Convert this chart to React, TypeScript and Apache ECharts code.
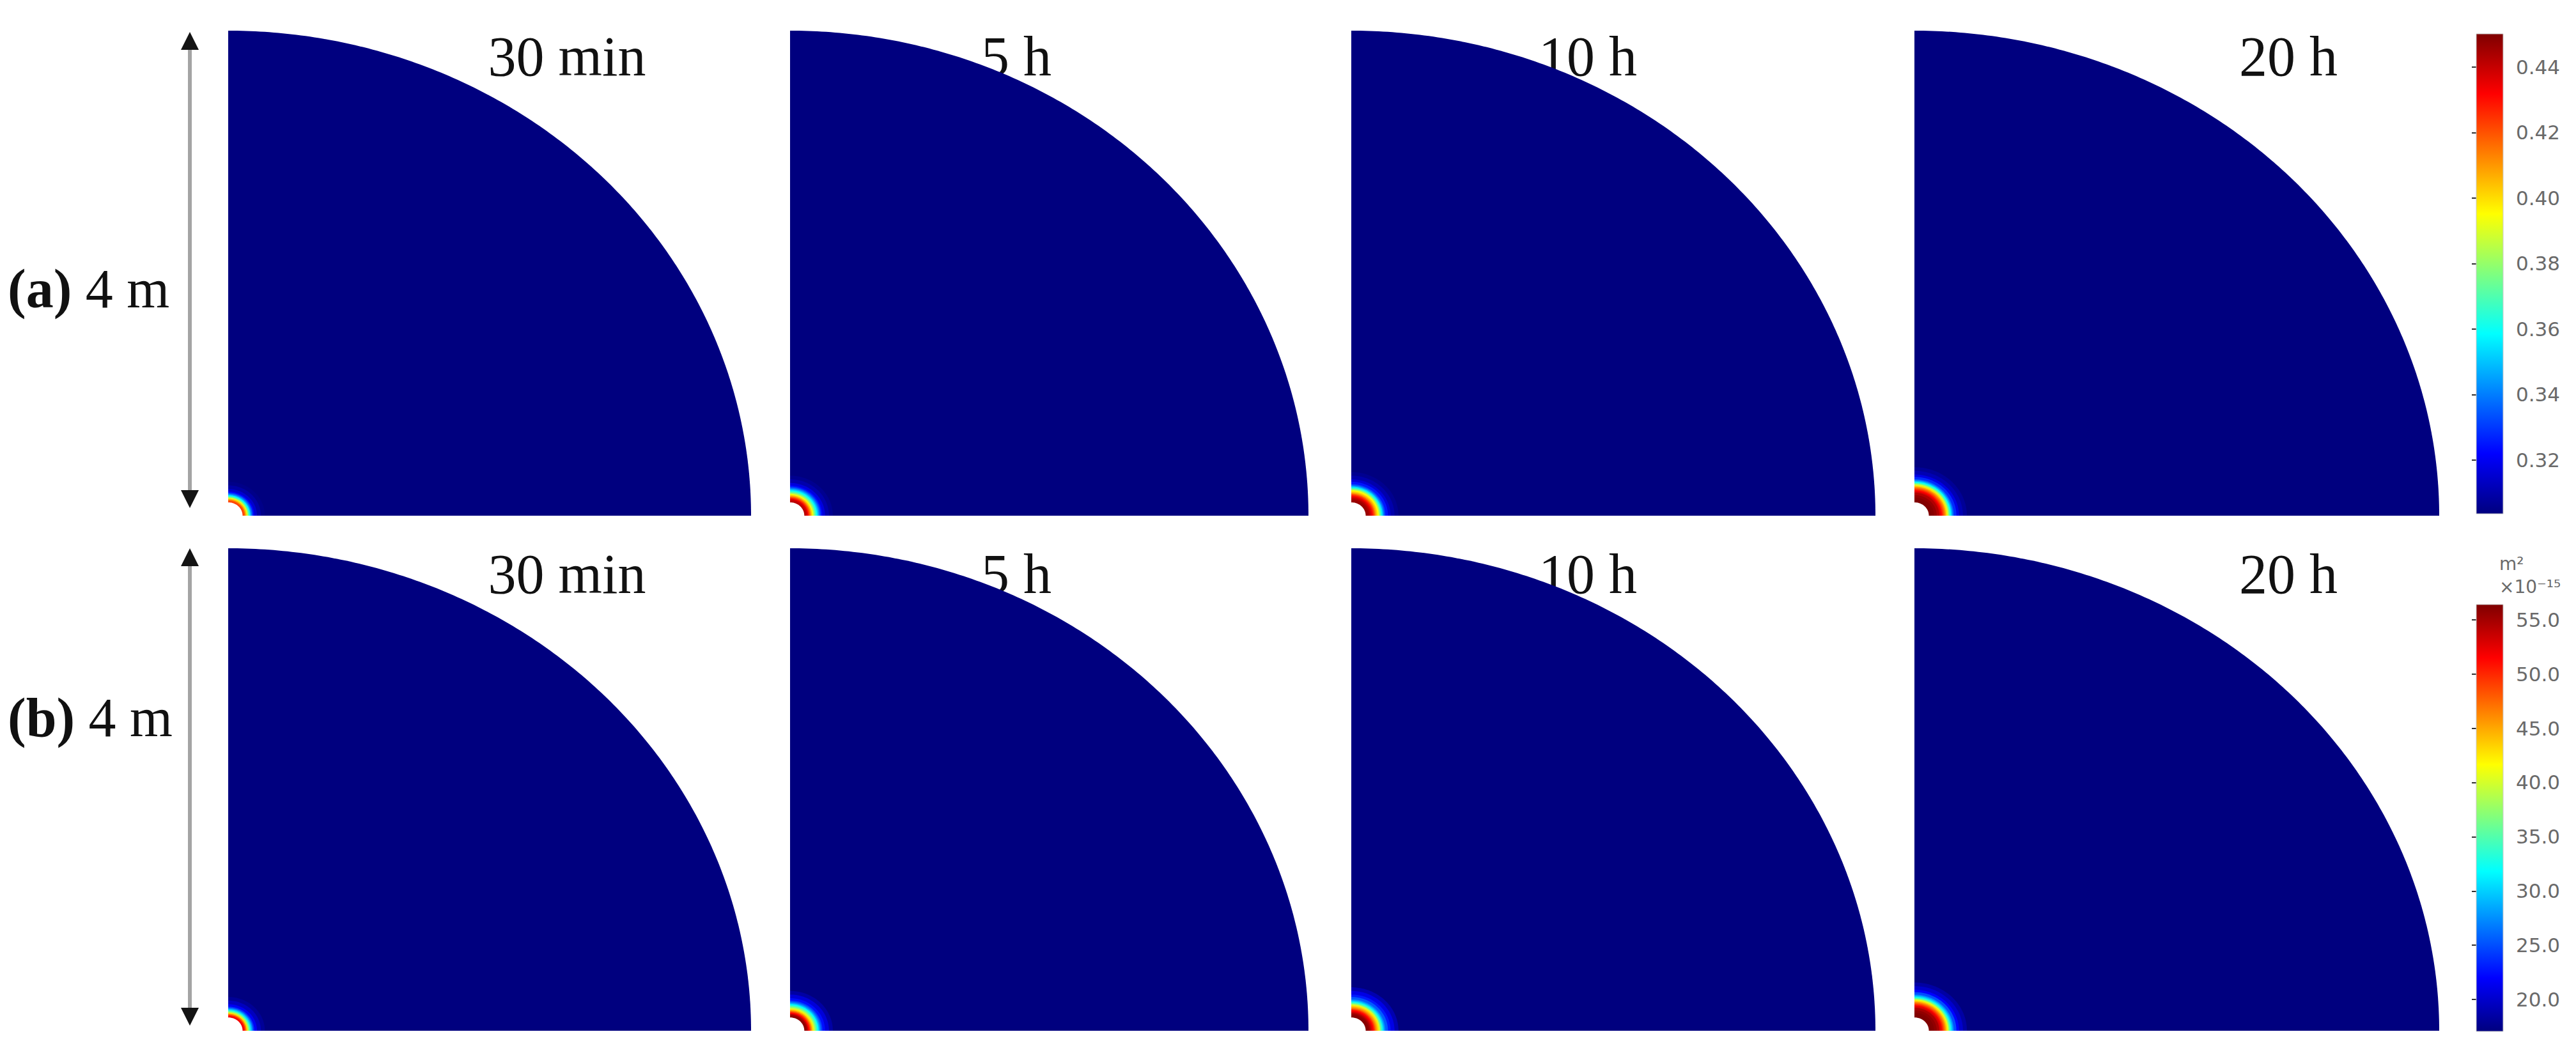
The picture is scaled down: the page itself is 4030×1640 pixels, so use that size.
import React, { useEffect, useRef } from 'react';
import * as echarts from 'echarts';

// ---------------- DATA ----------------
const TIME_LABELS = ['30 min', '5 h', '10 h', '20 h'];
const ROW_LABELS = ['(a)', '(b)'];
const SIZE_LABEL = '4 m';
const DOMAIN_RADIUS = 4; // m (quarter domain radius)
const WELL_RADIUS = 0.11; // m

// colour scales
const POROSITY_MIN = 0.3036;
const POROSITY_MAX = 0.4501;
const PERM_MIN = 17.06;
const PERM_MAX = 56.4;
const POROSITY_TICKS = [0.32, 0.34, 0.36, 0.38, 0.40, 0.42, 0.44];
const PERM_TICKS = [20, 25, 30, 35, 40, 45, 50, 55];
const PERM_UNIT = 'm²';
const PERM_SCALE = '×10⁻¹⁵';

// radial profiles (radius in m from well centre)
const RADII_30MIN = [0.11, 0.12, 0.13, 0.14, 0.15, 0.16, 0.17, 0.18, 0.19, 0.20, 0.22, 0.25];
const POROSITY_30MIN = [0.423, 0.418, 0.405, 0.390, 0.372, 0.357, 0.343, 0.332, 0.322, 0.315, 0.309, 0.305];
const PERM_30MIN = [52.0, 50.5, 47, 43, 38, 34, 30, 27, 24, 21.5, 19.5, 18];

const RADII_5H = [0.11, 0.12, 0.13, 0.14, 0.15, 0.16, 0.17, 0.18, 0.19, 0.20, 0.21, 0.22, 0.23, 0.24, 0.25, 0.27, 0.30];
const POROSITY_5H = [0.442, 0.440, 0.435, 0.425, 0.415, 0.404, 0.393, 0.381, 0.370, 0.360, 0.350, 0.340, 0.331, 0.323, 0.317, 0.310, 0.306];
const PERM_5H = [56, 55.5, 54, 51.5, 49, 46, 43, 40, 37, 34.5, 32, 29, 26.5, 24.5, 22.5, 20.5, 18.5];

const RADII_10H = [0.11, 0.12, 0.13, 0.14, 0.15, 0.16, 0.17, 0.18, 0.19, 0.20, 0.21, 0.22, 0.23, 0.24, 0.25, 0.26, 0.28, 0.30, 0.33];
const POROSITY_10H = [0.447, 0.446, 0.444, 0.440, 0.435, 0.428, 0.420, 0.410, 0.402, 0.395, 0.382, 0.368, 0.355, 0.343, 0.333, 0.325, 0.316, 0.310, 0.306];
const PERM_10H = [56.2, 56, 55.5, 54.5, 53, 51.5, 49.5, 47, 45, 43, 40, 36, 33, 30, 27.5, 25.5, 23, 21, 19];

const RADII_20H = [0.11, 0.13, 0.15, 0.17, 0.19, 0.20, 0.21, 0.22, 0.23, 0.24, 0.25, 0.26, 0.27, 0.28, 0.29, 0.30, 0.32, 0.34, 0.37];
const POROSITY_20H = [0.450, 0.449, 0.447, 0.443, 0.437, 0.432, 0.425, 0.418, 0.410, 0.400, 0.388, 0.373, 0.360, 0.348, 0.337, 0.328, 0.318, 0.311, 0.307];
const PERM_20H = [56.4, 56.2, 55.7, 54.8, 53, 52, 50, 48, 46, 43.5, 40.5, 36.5, 33, 30, 27.5, 25, 22, 20, 18.5];

const RADII = [RADII_30MIN, RADII_5H, RADII_10H, RADII_20H];
const ROW_VALUES = [
  [POROSITY_30MIN, POROSITY_5H, POROSITY_10H, POROSITY_20H],
  [PERM_30MIN, PERM_5H, PERM_10H, PERM_20H],
];
const ROW_RANGES = [
  [POROSITY_MIN, POROSITY_MAX],
  [PERM_MIN, PERM_MAX],
];

// ---------------- LAYOUT ----------------
const W = 4030;
const H = 1640;
const PANEL_X = [
  [357, 818],
  [1236, 811],
  [2114, 820],
  [2995, 821],
];
const ROW_Y = [
  [48, 759],
  [858, 755],
];
const LABEL_CX = [887, 1590, 2484, 3580];
const CB_X = 3874;
const CB_W = 42;
const CB_Y = [
  [53, 751],
  [946, 668],
];
const ARROW_X = 297;
const ARROW_Y = [
  [50, 795],
  [858, 1605],
];
const ROW_LABEL_Y = [452, 1123];

const JET = ['#00007F', '#0000FF', '#007FFF', '#00FFFF', '#7FFF7F', '#FFFF00', '#FF7F00', '#FF0000', '#7F0000'];
const SERIF = "'Liberation Serif', 'Times New Roman', serif";
const SANS = "'DejaVu Sans', Verdana, sans-serif";

function buildBands(radii: number[], values: number[], bg: number) {
  const items: number[][] = [[DOMAIN_RADIUS, bg]];
  for (let i = radii.length - 1; i >= 0; i--) {
    const outer = i < radii.length - 1 ? radii[i + 1] : radii[i] + 0.03;
    items.push([outer, values[i]]);
  }
  return items;
}

function quarter(api: any, R: number, n: number) {
  const pts: number[][] = [api.coord([0, 0])];
  for (let i = 0; i <= n; i++) {
    const t = (i / n) * (Math.PI / 2);
    pts.push(api.coord([R * Math.cos(t), R * Math.sin(t)]));
  }
  return pts;
}

function buildOption() {
  const grid: any[] = [];
  const xAxis: any[] = [];
  const yAxis: any[] = [];
  const series: any[] = [];
  const graphic: any[] = [];

  // panel grids 0..7
  for (let r = 0; r < 2; r++) {
    for (let c = 0; c < 4; c++) {
      grid.push({ left: PANEL_X[c][0], width: PANEL_X[c][1], top: ROW_Y[r][0], height: ROW_Y[r][1] });
      const gi = grid.length - 1;
      xAxis.push({ type: 'value', gridIndex: gi, min: 0, max: DOMAIN_RADIUS, show: false });
      yAxis.push({ type: 'value', gridIndex: gi, min: 0, max: DOMAIN_RADIUS, show: false });
    }
  }
  // colorbar grids 8..9
  for (let r = 0; r < 2; r++) {
    grid.push({ left: CB_X, width: CB_W, top: CB_Y[r][0], height: CB_Y[r][1] });
    const gi = grid.length - 1;
    xAxis.push({ type: 'value', gridIndex: gi, min: 0, max: 1, show: false });
  }
  for (let r = 0; r < 2; r++) {
    const ticks = r === 0 ? POROSITY_TICKS : PERM_TICKS;
    yAxis.push({
      type: 'value', gridIndex: 8 + r, position: 'right',
      min: ROW_RANGES[r][0], max: ROW_RANGES[r][1],
      splitLine: { show: false }, axisLine: { show: false },
      axisTick: { show: true, inside: true, length: 7, customValues: ticks, lineStyle: { color: '#303030', width: 2 } },
      axisLabel: {
        show: true, customValues: ticks, margin: 20, color: '#6a6a6a', fontSize: 31, fontFamily: SANS,
        formatter: (v: number) => (r === 0 ? v.toFixed(2) : v.toFixed(1)),
      },
    });
  }
  for (let r = 0; r < 2; r++) {
    const ticks = r === 0 ? POROSITY_TICKS : PERM_TICKS;
    yAxis.push({
      type: 'value', gridIndex: 8 + r, position: 'left',
      min: ROW_RANGES[r][0], max: ROW_RANGES[r][1],
      splitLine: { show: false }, axisLine: { show: false }, axisLabel: { show: false },
      axisTick: { show: true, inside: true, length: 7, customValues: ticks, lineStyle: { color: '#303030', width: 2 } },
    });
  }

  // ring series 0..7
  for (let r = 0; r < 2; r++) {
    for (let c = 0; c < 4; c++) {
      const idx = r * 4 + c;
      series.push({
        type: 'custom', xAxisIndex: idx, yAxisIndex: idx, silent: true, clip: false,
        data: buildBands(RADII[c], ROW_VALUES[r][c], ROW_RANGES[r][0]),
        renderItem: (p: any, api: any) => {
          const R = api.value(0);
          const n = p.dataIndex === 0 ? 180 : 40;
          return { type: 'polygon', shape: { points: quarter(api, R, n) }, style: { fill: api.visual('color') } };
        },
      });
    }
  }
  // well holes 8..15
  for (let idx = 0; idx < 8; idx++) {
    series.push({
      type: 'custom', xAxisIndex: idx, yAxisIndex: idx, silent: true, clip: false,
      data: [[WELL_RADIUS]],
      renderItem: (_p: any, api: any) => ({
        type: 'polygon', shape: { points: quarter(api, api.value(0), 30) }, style: { fill: '#ffffff' },
      }),
    });
  }
  // colorbars 16..17
  for (let r = 0; r < 2; r++) {
    series.push({
      type: 'custom', xAxisIndex: 8 + r, yAxisIndex: 8 + r, silent: true, clip: false,
      data: [[ROW_RANGES[r][0], ROW_RANGES[r][1]]],
      renderItem: (_p: any, api: any) => {
        const tl = api.coord([0, api.value(1)]);
        const br = api.coord([1, api.value(0)]);
        const stops = JET.slice().reverse().map((col, i) => ({ offset: i / (JET.length - 1), color: col }));
        return {
          type: 'rect',
          shape: { x: tl[0], y: tl[1], width: br[0] - tl[0], height: br[1] - tl[1] },
          style: { fill: new echarts.graphic.LinearGradient(0, 0, 0, 1, stops), stroke: '#c8c8c8', lineWidth: 1 },
        };
      },
    });
  }

  // time labels
  for (let r = 0; r < 2; r++) {
    for (let c = 0; c < 4; c++) {
      graphic.push({
        type: 'text', x: LABEL_CX[c], y: ROW_Y[r][0] + 40, silent: true,
        style: { text: TIME_LABELS[c], fill: '#111', fontSize: 88, fontFamily: SERIF, align: 'center', verticalAlign: 'middle' },
      });
    }
  }
  // row labels and arrows
  for (let r = 0; r < 2; r++) {
    graphic.push({
      type: 'text', x: 12, y: ROW_LABEL_Y[r], silent: true,
      style: {
        text: '{b|' + ROW_LABELS[r] + '} ' + SIZE_LABEL, fill: '#111', fontSize: 86, fontFamily: SERIF,
        align: 'left', verticalAlign: 'middle',
        rich: { b: { fontWeight: 'bold', fontSize: 86, fontFamily: SERIF, fill: '#111' } },
      },
    });
    const [y0, y1] = ARROW_Y[r];
    graphic.push({
      type: 'line', silent: true,
      shape: { x1: ARROW_X, y1: y0 + 20, x2: ARROW_X, y2: y1 - 20 },
      style: { stroke: '#a4a4a4', lineWidth: 6 },
    });
    graphic.push({
      type: 'polygon', silent: true,
      shape: { points: [[ARROW_X, y0], [ARROW_X - 14, y0 + 28], [ARROW_X + 14, y0 + 28]] },
      style: { fill: '#141414' },
    });
    graphic.push({
      type: 'polygon', silent: true,
      shape: { points: [[ARROW_X, y1], [ARROW_X - 14, y1 - 28], [ARROW_X + 14, y1 - 28]] },
      style: { fill: '#141414' },
    });
  }
  // unit of permeability colorbar
  graphic.push({
    type: 'text', x: 3910, y: 882, silent: true,
    style: { text: PERM_UNIT, fill: '#6a6a6a', fontSize: 28, fontFamily: SANS, align: 'left', verticalAlign: 'middle' },
  });
  graphic.push({
    type: 'text', x: 3910, y: 918, silent: true,
    style: { text: PERM_SCALE, fill: '#6a6a6a', fontSize: 28, fontFamily: SANS, align: 'left', verticalAlign: 'middle' },
  });

  const visualMap = [0, 1].map((r) => ({
    type: 'continuous', show: false, dimension: 1,
    seriesIndex: [r * 4, r * 4 + 1, r * 4 + 2, r * 4 + 3],
    min: ROW_RANGES[r][0], max: ROW_RANGES[r][1],
    inRange: { color: JET },
  }));

  return {
    animation: false,
    backgroundColor: '#ffffff',
    textStyle: { fontFamily: SERIF },
    grid, xAxis, yAxis, series, graphic, visualMap,
  };
}

export default function App() {
  const ref = useRef<HTMLDivElement>(null);
  useEffect(() => {
    if (!ref.current) return;
    const chart = echarts.init(ref.current, null, { renderer: 'svg' });
    chart.setOption(buildOption() as any);
    return () => chart.dispose();
  }, []);
  return <div ref={ref} style={{ position: 'absolute', left: 0, top: 0, width: W, height: H }} />;
}
